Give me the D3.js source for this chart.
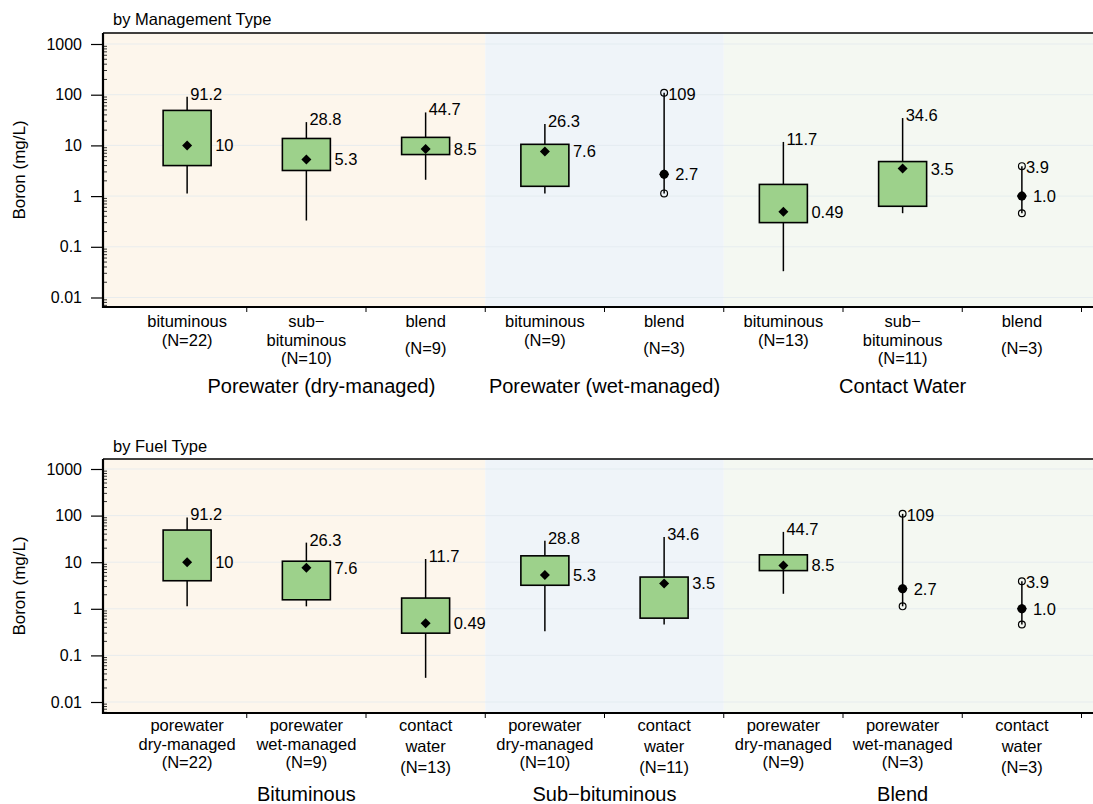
<!DOCTYPE html>
<html>
<head>
<meta charset="utf-8">
<script src="https://cdn.jsdelivr.net/npm/d3@7"></script>
<style>
  body { margin: 0; background: #fff; }
  svg { display: block; font-family: "Liberation Sans", Arial, sans-serif; }
</style>
</head>
<body>
<svg id="chart" width="1093" height="804"></svg>
<script>
// boron summary, one entry per management type x fuel type combination
const mgmtType = ["dry", "dry", "dry", "wet", "wet", "contact", "contact", "contact"];
const fuelType = ["bituminous", "sub-bituminous", "blend", "bituminous", "blend", "bituminous", "sub-bituminous", "blend"];
const nObs     = [22, 10, 9, 9, 3, 13, 11, 3];
const whiskLo  = [1.13, 0.33, 2.1, 1.13, null, 0.033, 0.46, null];
const q1       = [4.0, 3.2, 6.6, 1.56, null, 0.30, 0.63, null];
const median   = [10, 5.3, 8.5, 7.6, 2.7, 0.49, 3.5, 1.0];
const q3       = [49, 13.7, 14.4, 10.5, null, 1.7, 4.8, null];
const whiskHi  = [91.2, 28.8, 44.7, 26.3, 109, 11.7, 34.6, 3.9];
const rawPts   = [null, null, null, null, [1.13, 2.7, 109], null, null, [0.46, 1.0, 3.9]];
const medianTxt = ["10", "5.3", "8.5", "7.6", "2.7", "0.49", "3.5", "1.0"];
const maxTxt    = ["91.2", "28.8", "44.7", "26.3", "109", "11.7", "34.6", "3.9"];

const yTicks = [0.01, 0.1, 1, 10, 100, 1000];

// panel 1: by management type
const mgmtGroups = ["Porewater (dry-managed)", "Porewater (wet-managed)", "Contact Water"];
const mgmtOrder  = [0, 1, 2, 3, 4, 5, 6, 7];
const mgmtGroupOf = [0, 0, 0, 1, 1, 2, 2, 2];
const mgmtLabels = ["bituminous\n(N=22)", "sub\u2212\nbituminous\n(N=10)", "blend\n(N=9)",
                    "bituminous\n(N=9)", "blend\n(N=3)",
                    "bituminous\n(N=13)", "sub\u2212\nbituminous\n(N=11)", "blend\n(N=3)"];

// panel 2: by fuel type
const fuelGroups = ["Bituminous", "Sub\u2212bituminous", "Blend"];
const fuelOrder  = [0, 3, 5, 1, 6, 2, 4, 7];
const fuelGroupOf = [0, 0, 0, 1, 1, 2, 2, 2];
const fuelLabels = ["porewater\ndry-managed\n(N=22)", "porewater\nwet-managed\n(N=9)", "contact\nwater\n(N=13)",
                    "porewater\ndry-managed\n(N=10)", "contact\nwater\n(N=11)",
                    "porewater\ndry-managed\n(N=9)", "porewater\nwet-managed\n(N=3)", "contact\nwater\n(N=3)"];

const bandColors = ["#fdf6ec", "#eff4f9", "#f4f8f2"];
const boxFill = "#9dd18b";

const svg = d3.select("#chart");
const left = 103, right = 1105;
const x = d3.scaleBand().domain(d3.range(8)).range([127.5, 1081.5]).padding(0);
const bw = x.bandwidth();

function lineGap(first) {
  if (first === "blend") return 27;
  if (first === "contact") return 21;
  return 18.5;
}

function drawPanel(cfg) {
  const g = svg.append("g");
  const y = d3.scaleLog().domain([0.01, 1000]).range([cfg.y001, cfg.y1000]);

  // background bands per group
  cfg.groups.forEach((name, gi) => {
    const members = d3.range(8).filter(p => cfg.groupOf[p] === gi);
    const x0 = gi === 0 ? left : x(members[0]);
    const x1 = gi === cfg.groups.length - 1 ? right : x(members[members.length - 1]) + bw;
    g.append("rect")
      .attr("x", x0).attr("y", cfg.top)
      .attr("width", x1 - x0).attr("height", cfg.bottom - cfg.top)
      .attr("fill", bandColors[gi]);
    g.append("text")
      .attr("x", x(members[0]) + (x(members[members.length - 1]) + bw - x(members[0])) / 2 + (cfg.groupNudge[gi] || 0))
      .attr("y", cfg.groupY)
      .attr("dominant-baseline", "central")
      .attr("text-anchor", "middle")
      .attr("font-size", 20)
      .text(name);
  });

  // faint grid at decades
  g.selectAll(".grid").data(yTicks).join("line")
    .attr("x1", left).attr("x2", right)
    .attr("y1", d => y(d)).attr("y2", d => y(d))
    .attr("stroke", "#dfe8ee").attr("stroke-opacity", 0.7);

  // minor ticks, drawn inward
  const minor = [];
  [0.001, 0.01, 0.1, 1, 10, 100, 1000].forEach(d => {
    for (let k = 2; k <= 9; k++) {
      const v = d * k, py = y(v);
      if (py > cfg.top && py < cfg.bottom) minor.push(v);
    }
  });
  g.selectAll(".minor").data(minor).join("line")
    .attr("x1", left).attr("x2", left + 4)
    .attr("y1", d => y(d)).attr("y2", d => y(d))
    .attr("stroke", "#000").attr("stroke-width", 0.8);

  // major y axis
  const ax = g.append("g").attr("transform", `translate(${left},0)`)
    .call(d3.axisLeft(y).tickValues(yTicks).tickFormat(d3.format("~g")).tickSize(12).tickPadding(9));
  ax.select(".domain").remove();
  ax.selectAll("line").attr("stroke", "#000").attr("stroke-width", 1.2);
  ax.selectAll("text").attr("font-size", 16).attr("fill", "#000")
    .attr("font-family", "Liberation Sans, Arial, sans-serif");

  // frame
  g.append("line").attr("x1", left).attr("x2", right).attr("y1", cfg.top).attr("y2", cfg.top)
    .attr("stroke", "#000").attr("stroke-width", 1.5);
  g.append("line").attr("x1", left).attr("x2", right).attr("y1", cfg.bottom).attr("y2", cfg.bottom)
    .attr("stroke", "#000").attr("stroke-width", 2.2);
  g.append("line").attr("x1", left).attr("x2", left).attr("y1", cfg.top).attr("y2", cfg.bottom + 1)
    .attr("stroke", "#000").attr("stroke-width", 2.2);

  // x ticks at category boundaries
  g.selectAll(".xt").data(d3.range(8)).join("line")
    .attr("x1", p => x(p) + bw).attr("x2", p => x(p) + bw)
    .attr("y1", cfg.bottom).attr("y2", cfg.bottom + 5)
    .attr("stroke", "#000").attr("stroke-width", 1);

  // category labels
  cfg.labels.forEach((lab, p) => {
    const lines = lab.split("\n");
    const gap = lineGap(lines[0]);
    const t = g.append("text")
      .attr("text-anchor", "middle")
      .attr("font-size", 16.5);
    lines.forEach((ln, li) => {
      t.append("tspan")
        .attr("x", x(p) + bw / 2)
        .attr("y", cfg.catY + li * gap)
        .attr("dominant-baseline", "central")
        .text(ln);
    });
  });

  // boxes
  const diamond = d3.symbol(d3.symbolSquare, 50);
  cfg.order.forEach((idx, p) => {
    const cx = x(p) + bw / 2;
    if (q1[idx] !== null) {
      g.append("line").attr("x1", cx).attr("x2", cx)
        .attr("y1", y(whiskLo[idx])).attr("y2", y(whiskHi[idx]))
        .attr("stroke", "#000").attr("stroke-width", 1.5);
      g.append("rect")
        .attr("x", cx - 24).attr("width", 48)
        .attr("y", y(q3[idx])).attr("height", y(q1[idx]) - y(q3[idx]))
        .attr("fill", boxFill).attr("stroke", "#000").attr("stroke-width", 1.6);
      g.append("path").attr("d", diamond)
        .attr("transform", `translate(${cx},${y(median[idx])}) rotate(45)`)
        .attr("fill", "#000");
      g.append("text").attr("x", cx + 28).attr("y", y(median[idx]))
        .attr("dominant-baseline", "central").attr("font-size", 16.5).text(medianTxt[idx]);
      g.append("text").attr("x", cx + 3).attr("y", y(whiskHi[idx]) - 3)
        .attr("dominant-baseline", "central").attr("font-size", 16.5).text(maxTxt[idx]);
    } else {
      const pts = rawPts[idx];
      g.append("line").attr("x1", cx).attr("x2", cx)
        .attr("y1", y(d3.min(pts))).attr("y2", y(d3.max(pts)))
        .attr("stroke", "#000").attr("stroke-width", 1.5);
      g.selectAll(null).data([d3.min(pts), d3.max(pts)]).join("circle")
        .attr("cx", cx).attr("cy", d => y(d)).attr("r", 3.4)
        .attr("fill", "none").attr("stroke", "#000").attr("stroke-width", 1.2);
      g.append("circle").attr("cx", cx).attr("cy", y(median[idx])).attr("r", 4.5).attr("fill", "#000");
      g.append("path").attr("d", diamond)
        .attr("transform", `translate(${cx},${y(median[idx])}) rotate(45)`)
        .attr("fill", "#000");
      g.append("text").attr("x", cx + 11).attr("y", y(median[idx]))
        .attr("dominant-baseline", "central").attr("font-size", 16.5).text(medianTxt[idx]);
      g.append("text").attr("x", cx + 4).attr("y", y(whiskHi[idx]) + 1)
        .attr("dominant-baseline", "central").attr("font-size", 16.5).text(maxTxt[idx]);
    }
  });

  // title and y label
  g.append("text").attr("x", 113).attr("y", cfg.titleY)
    .attr("dominant-baseline", "central").attr("font-size", 16.5).text(cfg.title);
  g.append("text")
    .attr("transform", `translate(19,${(cfg.top + cfg.bottom) / 2}) rotate(-90)`)
    .attr("text-anchor", "middle").attr("dominant-baseline", "central")
    .attr("font-size", 17).text("Boron (mg/L)");
}

drawPanel({
  title: "by Management Type", groups: mgmtGroups, groupOf: mgmtGroupOf,
  order: mgmtOrder, labels: mgmtLabels, groupNudge: [15, 0, 0],
  top: 33, bottom: 307, y1000: 44, y001: 297.5,
  titleY: 19, catY: 321, groupY: 386
});
drawPanel({
  title: "by Fuel Type", groups: fuelGroups, groupOf: fuelGroupOf,
  order: fuelOrder, labels: fuelLabels, groupNudge: [0, 0, 0],
  top: 459, bottom: 713, y1000: 469, y001: 702,
  titleY: 446, catY: 725, groupY: 794
});
</script>
</body>
</html>
